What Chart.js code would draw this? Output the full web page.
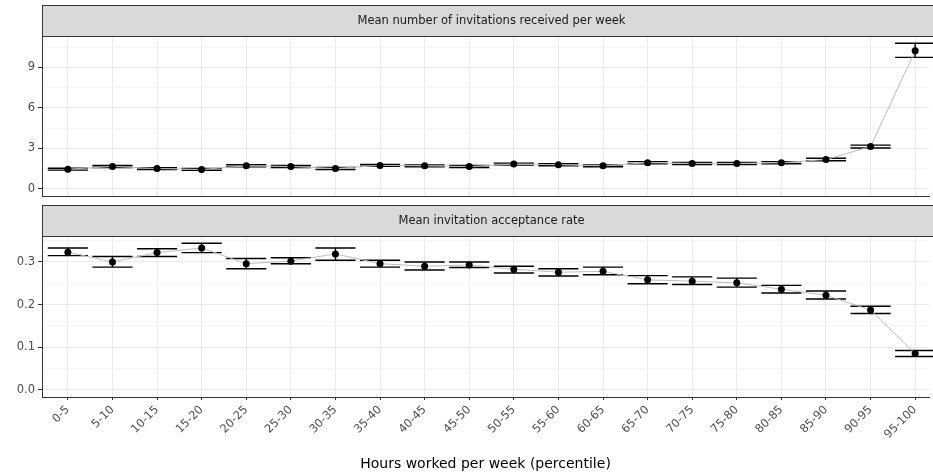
<!DOCTYPE html>
<html>
<head>
<meta charset="utf-8">
<script src="https://cdn.jsdelivr.net/npm/chart.js@4"></script>
<style>
  body { margin: 0; background: #fff; }
  #wrap { position: relative; width: 933px; height: 475px; overflow: hidden; }
  .box { position: absolute; left: 0; width: 933px; }
</style>
</head>
<body>
<div id="wrap">
  <div class="box" style="top:0;height:200px"><canvas id="topChart"></canvas></div>
  <div class="box" style="top:200px;height:275px"><canvas id="bottomChart"></canvas></div>
</div>
<script>
var categories = ['0-5', '5-10', '10-15', '15-20', '20-25', '25-30', '30-35', '35-40', '40-45', '45-50',
  '50-55', '55-60', '60-65', '65-70', '70-75', '75-80', '80-85', '85-90', '90-95', '95-100'];

var invitesMean = [1.45, 1.65, 1.5, 1.43, 1.7, 1.65, 1.5, 1.73, 1.7, 1.65, 1.83, 1.78, 1.7, 1.93, 1.88, 1.88, 1.93, 2.17, 3.13, 10.25];
var invitesLow = [1.38, 1.58, 1.43, 1.36, 1.62, 1.58, 1.42, 1.66, 1.63, 1.58, 1.75, 1.71, 1.63, 1.85, 1.8, 1.8, 1.85, 2.08, 3.02, 9.75];
var invitesHigh = [1.52, 1.72, 1.57, 1.5, 1.78, 1.72, 1.58, 1.8, 1.77, 1.72, 1.9, 1.85, 1.77, 2.01, 1.96, 1.96, 2.01, 2.26, 3.24, 10.8];

var acceptMean = [0.323, 0.300, 0.322, 0.333, 0.296, 0.302, 0.319, 0.296, 0.290, 0.293, 0.283, 0.276, 0.278, 0.258, 0.255, 0.251, 0.236, 0.222, 0.187, 0.085];
var acceptLow = [0.315, 0.288, 0.313, 0.322, 0.284, 0.296, 0.304, 0.288, 0.281, 0.287, 0.274, 0.267, 0.270, 0.249, 0.247, 0.241, 0.227, 0.213, 0.179, 0.078];
var acceptHigh = [0.333, 0.313, 0.331, 0.344, 0.308, 0.310, 0.333, 0.304, 0.300, 0.300, 0.290, 0.284, 0.288, 0.268, 0.265, 0.262, 0.245, 0.232, 0.196, 0.092];

var invitesTicks = [0, 3, 6, 9];
var invitesMinor = [1.5, 4.5, 7.5, 10.5];
var acceptTicks = [0, 0.1, 0.2, 0.3];
var acceptMinor = [0.05, 0.15, 0.25, 0.35];

Chart.defaults.font.family = '"DejaVu Sans", "Liberation Sans", sans-serif';

// grey facet strip above each panel
var stripPlugin = {
  id: 'strip',
  afterDraw: function (chart, args, opts) {
    var c = chart.ctx, a = chart.chartArea, xs = chart.scales.x;
    var right = xs.getPixelForValue(19.58);
    c.save();
    c.fillStyle = '#d9d9d9';
    c.fillRect(a.left, a.top - 31, right - a.left, 31);
    c.strokeStyle = '#333';
    c.lineWidth = 1;
    c.strokeRect(a.left + 0.5, a.top - 30.5, right - a.left, 31);
    c.fillStyle = '#1a1a1a';
    c.font = '11.5px "DejaVu Sans", sans-serif';
    c.textAlign = 'center';
    c.textBaseline = 'middle';
    c.fillText(opts.text, xs.getPixelForValue(9.5), a.top - 15);
    c.restore();
  }
};

// ggplot-like error bars
var errorBarPlugin = {
  id: 'errorBars',
  beforeDatasetsDraw: function (chart, args, opts) {
    var c = chart.ctx, xs = chart.scales.x, ys = chart.scales.y;
    c.save();
    c.strokeStyle = '#000';
    c.lineWidth = 1.4;
    opts.low.forEach(function (lo, i) {
      var hi = opts.high[i];
      var x = xs.getPixelForValue(i);
      var x0 = xs.getPixelForValue(i - 0.45), x1 = xs.getPixelForValue(i + 0.45);
      var y0 = ys.getPixelForValue(lo), y1 = ys.getPixelForValue(hi);
      c.beginPath();
      c.moveTo(x, y0); c.lineTo(x, y1);
      c.moveTo(x0, y0); c.lineTo(x1, y0);
      c.moveTo(x0, y1); c.lineTo(x1, y1);
      c.stroke();
    });
    c.restore();
  }
};

function makeChart(id, o) {
  var isMajor = function (v) { return o.major.some(function (m) { return Math.abs(m - v) < 1e-9; }); };
  return new Chart(document.getElementById(id), {
    type: 'line',
    data: {
      datasets: [{
        data: o.mean.map(function (v, i) { return { x: i, y: v }; }),
        borderColor: '#bdbdbd',
        borderWidth: 1,
        pointRadius: 3.5,
        pointBackgroundColor: '#000',
        pointBorderWidth: 0,
        tension: 0
      }]
    },
    options: {
      responsive: true,
      maintainAspectRatio: false,
      animation: false,
      layout: { padding: { top: 36, right: 0, bottom: 0, left: 0 } },
      plugins: {
        legend: { display: false },
        tooltip: { enabled: false },
        strip: { text: o.title },
        errorBars: { low: o.low, high: o.high }
      },
      scales: {
        x: {
          type: 'linear',
          min: -0.58,
          max: 19.31,
          afterBuildTicks: function (s) { s.ticks = categories.map(function (c, i) { return { value: i }; }); },
          afterFit: function (s) { s.height = o.xHeight; s.paddingLeft = 0; s.paddingRight = 0; },
          grid: { color: '#ebebeb', drawTicks: o.showX, tickLength: 3, tickColor: '#333' },
          border: { color: '#333', width: 1 },
          ticks: {
            display: o.showX,
            autoSkip: false,
            minRotation: 45,
            maxRotation: 45,
            padding: 3,
            color: '#4d4d4d',
            font: { size: 11.5 },
            callback: function (v) { return categories[v]; }
          },
          title: {
            display: o.showX,
            text: 'Hours worked per week (percentile)',
            color: '#000',
            font: { size: 14 },
            padding: { top: 0, bottom: 2 }
          }
        },
        y: {
          min: o.min,
          max: o.max,
          afterBuildTicks: function (s) {
            s.ticks = o.major.concat(o.minor).sort(function (a, b) { return a - b; })
              .map(function (v) { return { value: v }; });
          },
          afterFit: function (s) { s.width = 42; s.paddingTop = 0; s.paddingBottom = 0; },
          grid: {
            color: function (ctx) { return isMajor(ctx.tick.value) ? '#ebebeb' : '#f5f5f5'; },
            tickColor: function (ctx) { return isMajor(ctx.tick.value) ? '#333' : 'rgba(0,0,0,0)'; },
            tickLength: 4
          },
          border: { color: '#333', width: 1 },
          ticks: {
            padding: 3,
            color: '#4d4d4d',
            font: { size: 11.5 },
            callback: function (v) { return isMajor(v) ? o.fmt(v) : ''; }
          }
        }
      }
    },
    plugins: [errorBarPlugin, stripPlugin]
  });
}

makeChart('topChart', {
  title: 'Mean number of invitations received per week',
  mean: invitesMean, low: invitesLow, high: invitesHigh,
  min: -0.54, max: 11.34,
  major: invitesTicks, minor: invitesMinor,
  fmt: function (v) { return String(v); },
  showX: false, xHeight: 4
});

makeChart('bottomChart', {
  title: 'Mean invitation acceptance rate',
  mean: acceptMean, low: acceptLow, high: acceptHigh,
  min: -0.017, max: 0.361,
  major: acceptTicks, minor: acceptMinor,
  fmt: function (v) { return v.toFixed(1); },
  showX: true, xHeight: 78
});
</script>
</body>
</html>
